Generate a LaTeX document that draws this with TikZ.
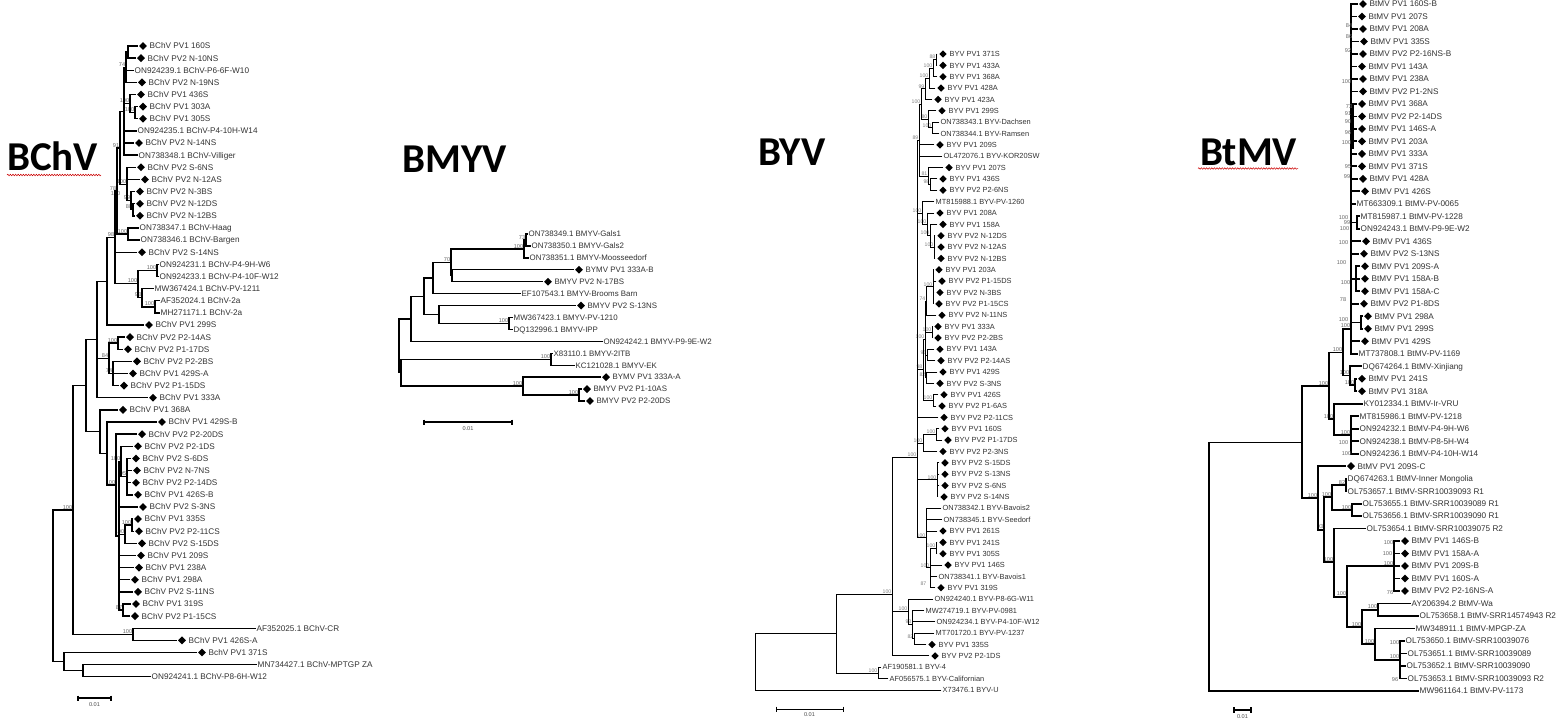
\documentclass[tikz,border=0pt]{standalone}
\usepackage{fontspec}
\setmainfont{Liberation Sans}
\newfontfamily\ttlfont{Carlito}
\usetikzlibrary{shapes.geometric,decorations.pathmorphing}
% leaf with diamond: parent x, tip x, row, label
\newcommand\zlfd[4]{\draw[tl] (#1,#3) -- (#2,#3); \node[dia] at ({#2+6},#3) {}; \node[lbl] at ({#2+12.5},#3) {#4};}
% plain leaf
\newcommand\zlfp[4]{\draw[tl] (#1,#3) -- (#2,#3); \node[lbl] at ({#2+1.5},#3) {#4};}
% internal node: parent x, x, row1, row2, stem row, bootstrap
\newcommand\znd[6]{\draw[tl] (#1,#5) -- (#2,#5); \draw[tl] (#2,#3) -- (#2,#4); \node[bs] at (#2,#5) {#6};}
\newcommand\zvb[3]{\draw[tl] (#1,#2) -- (#1,#3);}
\newcommand\zbs[3]{\node[bs,anchor=east] at (#1,#2) {#3};}
\begin{document}
\begin{tikzpicture}[x=1pt,y=-1pt,
  tl/.style={line width=1.4pt,line cap=rect},
  dia/.style={diamond,fill=black,inner sep=0pt,minimum size=8pt},
  lbl/.style={anchor=base west,inner sep=0pt,yshift=-2.9pt,text=black!80,font=\fontsize{8.2}{9}\selectfont},
  bs/.style={anchor=south east,inner sep=0.6pt,text=black!60,font=\fontsize{5.6}{6}\selectfont},
  ttl/.style={anchor=base west,inner sep=0pt,font=\ttlfont\bfseries\fontsize{41}{44}\selectfont},
  wavy/.style={red!80!black,line width=0.5pt,decorate,decoration={snake,amplitude=0.8pt,segment length=2.6pt}},
  sbar/.style={line width=1.2pt},
  sbl/.style={inner sep=0pt,text=black!70,font=\fontsize{5.6}{6}\selectfont}]
\fill[white] (0,0) rectangle (1562,723);
\useasboundingbox (0,0) rectangle (1562,723);

% ---------------- titles ----------------
\node[ttl] (tBChV) at (7,170) {BChV};
\draw[wavy] (7,175) -- (101,175);
\node[ttl] (tBMYV) at (402,172) {BMYV};
\node[ttl] (tBYV) at (758,165) {BYV};
\node[ttl] (tBtMV) at (1200,165) {BtMV};
\draw[wavy] (1198,168.5) -- (1298,168.5);

% ---------------- BChV ----------------
\begin{scope}[yshift=-33.87pt,y={(0pt,-12.13pt)}]
\znd{126}{128}{1}{2}{1.5}{}
\zlfd{128}{137}{1}{BChV PV1 160S}
\zlfd{128}{135}{2}{BChV PV2 N-10NS}
\znd{124}{126}{1.5}{4}{2.75}{74}
\zlfp{126}{133}{3}{ON924239.1 BChV-P6-6F-W10}
\zlfd{126}{136}{4}{BChV PV2 N-19NS}
\znd{130}{135}{6}{7}{6.5}{100}
\znd{124}{130}{5}{6.5}{5.75}{100}
\zlfd{130}{135}{5}{BChV PV1 436S}
\zlfd{135}{137}{6}{BChV PV1 303A}
\zlfd{135}{137}{7}{BChV PV1 305S}
\znd{120}{124}{2.75}{10}{6.4}{}
\zlfp{124}{136}{8}{ON924235.1 BChV-P4-10H-W14}
\zlfd{124}{133}{9}{BChV PV2 N-14NS}
\zlfp{124}{137}{10}{ON738348.1 BChV-Villiger}
\znd{131}{133}{14}{15}{14.5}{88}
\znd{127}{131}{13}{14.5}{13.75}{99}
\znd{120}{127}{11}{13.75}{12.4}{100}
\zlfd{127}{135}{11}{BChV PV2 S-6NS}
\zlfd{127}{139}{12}{BChV PV2 N-12AS}
\zlfd{131}{134}{13}{BChV PV2 N-3BS}
\zlfd{133}{134}{14}{BChV PV2 N-12DS}
\zlfd{133}{134}{15}{BChV PV2 N-12BS}
\znd{117}{120}{6.4}{12.4}{9.4}{91}
\zbs{121}{13.2}{100}
\znd{117}{128}{16}{17}{16.5}{100}
\zlfp{128}{138}{16}{ON738347.1 BChV-Haag}
\zlfp{128}{139}{17}{ON738346.1 BChV-Bargen}
\znd{115}{117}{9.4}{16.5}{12.95}{78}
\znd{138}{157}{19}{20}{19.5}{100}
\zlfp{157}{158}{19}{ON924231.1 BChV-P4-9H-W6}
\zlfp{157}{158}{20}{ON924233.1 BChV-P4-10F-W12}
\znd{142}{155}{22}{23}{22.5}{100}
\znd{138}{142}{21}{22.5}{21.75}{93}
\zlfp{142}{153}{21}{MW367424.1 BChV-PV-1211}
\zlfp{155}{159}{22}{AF352024.1 BChV-2a}
\zlfp{155}{159}{23}{MH271171.1 BChV-2a}
\znd{115}{138}{19.5}{21.75}{20.6}{100}
\znd{107}{115}{12.95}{20.6}{16.8}{98}
\zlfd{115}{136}{18}{BChV PV2 S-14NS}
\znd{97}{107}{16.8}{24}{20.4}{}
\zlfd{107}{143}{24}{BChV PV1 299S}
\znd{109}{118}{25}{26}{25.5}{100}
\zlfd{118}{124}{25}{BChV PV2 P2-14AS}
\zlfd{118}{122}{26}{BChV PV2 P1-17DS}
\znd{109}{113}{27}{29}{28}{74}
\zlfd{113}{131}{27}{BChV PV2 P2-2BS}
\zlfd{113}{127}{28}{BChV PV1 429S-A}
\zlfd{113}{118}{29}{BChV PV2 P1-15DS}
\znd{97}{109}{25.5}{28}{26.75}{84}
\znd{86}{97}{20.4}{30}{25.2}{}
\zlfd{97}{147}{30}{BChV PV1 333A}
\znd{121}{127}{35}{38}{36.5}{95}
\znd{119}{121}{34}{36.5}{35.25}{100}
\zlfd{121}{132}{34}{BChV PV2 P2-1DS}
\zlfd{127}{130}{35}{BChV PV2 S-6DS}
\zlfd{127}{131}{36}{BChV PV2 N-7NS}
\zlfd{127}{130}{37}{BChV PV2 P2-14DS}
\zlfd{127}{132}{38}{BChV PV1 426S-B}
\zlfd{119}{137}{39}{BChV PV2 S-3NS}
\znd{125}{132}{40}{41}{40.5}{100}
\znd{119}{125}{40.5}{42}{41.25}{100}
\zlfd{132}{132}{40}{BChV PV1 335S}
\zlfd{132}{133}{41}{BChV PV2 P2-11CS}
\zlfd{125}{136}{42}{BChV PV2 S-15DS}
\zlfd{119}{135}{43}{BChV PV1 209S}
\zlfd{119}{133}{44}{BChV PV1 238A}
\zlfd{119}{129}{45}{BChV PV1 298A}
\zlfd{119}{132}{46}{BChV PV2 S-11NS}
\znd{119}{123}{47}{48}{47.5}{87}
\zlfd{123}{130}{47}{BChV PV1 319S}
\zlfd{123}{129}{48}{BChV PV2 P1-15CS}
\znd{116}{119}{35.25}{47.5}{41.4}{}
\znd{107}{116}{33}{41.4}{37.2}{100}
\zlfd{116}{136}{33}{BChV PV2 P2-20DS}
\znd{100}{107}{32}{37.2}{34.6}{}
\zlfd{107}{156}{32}{BChV PV1 429S-B}
\znd{86}{100}{31}{34.6}{32.8}{}
\zlfd{100}{117}{31}{BChV PV1 368A}
\znd{73}{86}{25.2}{32.8}{29}{}
\znd{73}{133}{49}{50}{49.5}{100}
\zlfp{133}{255}{49}{AF352025.1 BChV-CR}
\zlfd{133}{176}{50}{BChV PV1 426S-A}
\znd{53}{73}{29}{49.5}{39.25}{100}
\znd{64}{83}{52}{53}{52.5}{}
\znd{53}{64}{51}{52.5}{51.75}{}
\zlfd{64}{196}{51}{BchV PV1 371S}
\zlfp{83}{256}{52}{MN734427.1 BChV-MPTGP ZA}
\zlfp{83}{150}{53}{ON924241.1 BChV-P8-6H-W12}
\zvb{53}{39.25}{51.75}
\end{scope}
\draw[sbar] (78,695.5) -- (78,700.5) (78,698) -- (111,698) (111,695.5) -- (111,700.5);
\node[sbl] (sb1) at (94.5,705) {0.01};

% ---------------- BMYV ----------------
\begin{scope}[yshift=-222.07pt,y={(0pt,-11.93pt)},
  lbl/.style={anchor=base west,inner sep=0pt,yshift=-2.8pt,text=black!80,font=\fontsize{7.9}{9}\selectfont}]
\znd{524}{526}{1}{2}{1.5}{73}
\zlfp{526}{527}{1}{ON738349.1 BMYV-Gals1}
\zlfp{526}{530}{2}{ON738350.1 BMYV-Gals2}
\znd{451}{524}{1.5}{3}{2.25}{100}
\zlfp{524}{528}{3}{ON738351.1 BMYV-Moosseedorf}
\znd{451}{452}{4}{5}{4.5}{}
\zlfd{452}{573}{4}{BYMV PV1 333A-B}
\zlfd{452}{542}{5}{BMYV PV2 N-17BS}
\znd{433}{451}{2.25}{4.5}{3.375}{70}
\znd{424}{433}{3.375}{6}{4.69}{}
\zlfp{433}{520}{6}{EF107543.1 BMYV-Brooms Barn}
\znd{439}{509}{8}{9}{8.5}{100}
\znd{424}{439}{7}{8.5}{7.75}{}
\zlfd{439}{575}{7}{BMYV PV2 S-13NS}
\zlfp{509}{512}{8}{MW367423.1 BMYV-PV-1210}
\zlfp{509}{512}{9}{DQ132996.1 BMYV-IPP}
\znd{411}{424}{4.69}{7.75}{6.22}{}
\znd{399}{411}{6.22}{10}{8.11}{}
\zlfp{411}{602}{10}{ON924242.1 BMYV-P9-9E-W2}
\znd{401}{551}{11}{12}{11.5}{100}
\zlfp{551}{552}{11}{X83110.1 BMYV-2ITB}
\zlfp{551}{574}{12}{KC121028.1 BMYV-EK}
\znd{523}{579}{14}{15}{14.5}{100}
\zlfd{579}{581}{14}{BMYV PV2 P1-10AS}
\zlfd{579}{584}{15}{BMYV PV2 P2-20DS}
\znd{401}{523}{13}{14.5}{13.75}{100}
\zlfd{523}{600}{13}{BYMV PV1 333A-A}
\znd{399}{401}{11.5}{13.75}{12.625}{}
\zvb{399}{8.11}{12.625}
\end{scope}
\draw[sbar] (424,419.5) -- (424,424.5) (424,422) -- (512,422) (512,419.5) -- (512,424.5);
\node[sbl] (sb2) at (468,429) {0.01};

% ---------------- BYV ----------------
\begin{scope}[yshift=-42.64pt,y={(0pt,-11.357pt)},
  tl/.style={line width=0.9pt,line cap=rect},
  dia/.style={diamond,fill=black,inner sep=0pt,minimum size=7.5pt},
  lbl/.style={anchor=base west,inner sep=0pt,yshift=-2.65pt,text=black!80,font=\fontsize{7.4}{8}\selectfont},
  bs/.style={anchor=south east,inner sep=0.5pt,text=black!50,font=\fontsize{5.2}{6}\selectfont}]
\znd{933}{936}{1}{2}{1.5}{88}
\zlfd{936}{937}{1}{BYV PV1 371S}
\zlfd{936}{937}{2}{BYV PV1 433A}
\znd{929}{933}{1.5}{3}{2.25}{100}
\zlfd{933}{937}{3}{BYV PV1 368A}
\znd{925}{929}{2.25}{4}{3.125}{100}
\zlfd{929}{935}{4}{BYV PV1 428A}
\znd{921}{925}{3.125}{5}{4.06}{99}
\zlfd{925}{932}{5}{BYV PV1 423A}
\znd{928}{932}{7}{8}{7.5}{100}
\zlfp{932}{939}{7}{ON738343.1 BYV-Dachsen}
\zlfp{932}{939}{8}{ON738344.1 BYV-Ramsen}
\znd{921}{928}{6}{7.5}{6.75}{80}
\zlfd{928}{936}{6}{BYV PV1 299S}
\znd{919}{921}{4.06}{6.75}{5.4}{100}
\znd{917}{919}{5.4}{11.75}{8.6}{89}
\zlfd{919}{934}{9}{BYV PV1 209S}
\zlfp{919}{942}{10}{OL472076.1 BYV-KOR20SW}
\znd{928}{930}{12}{13}{12.5}{98}
\znd{919}{928}{11}{12.5}{11.75}{81}
\zlfd{928}{943}{11}{BYV PV1 207S}
\zlfd{930}{937}{12}{BYV PV1 436S}
\zlfd{930}{937}{13}{BYV PV2 P2-6NS}
\znd{930}{934}{17}{19}{18}{100}
\zlfd{934}{935}{17}{BYV PV2 N-12DS}
\zlfd{934}{935}{18}{BYV PV2 N-12AS}
\zlfd{934}{935}{19}{BYV PV2 N-12BS}
\znd{927}{930}{16}{18}{17}{100}
\zlfd{930}{937}{16}{BYV PV1 158A}
\znd{922}{927}{15}{17}{16}{100}
\zlfd{927}{934}{15}{BYV PV1 208A}
\znd{917}{922}{14}{16}{15}{100}
\zlfp{922}{934}{14}{MT815988.1 BYV-PV-1260}
\znd{926}{933}{20}{23}{21.5}{100}
\zlfd{933}{933}{20}{BYV PV1 203A}
\zlfd{933}{936}{21}{BYV PV2 P1-15DS}
\zlfd{933}{934}{22}{BYV PV2 N-3BS}
\zlfd{933}{933}{23}{BYV PV2 P1-15CS}
\znd{925}{926}{21.5}{24}{22.75}{74}
\zlfd{926}{936}{24}{BYV PV2 N-11NS}
\znd{925}{932}{25}{26}{25.5}{100}
\zlfd{932}{932}{25}{BYV PV1 333A}
\zlfd{932}{932}{26}{BYV PV2 P2-2BS}
\znd{925}{927}{27}{28}{27.5}{95}
\zlfd{927}{934}{27}{BYV PV1 143A}
\zlfd{927}{935}{28}{BYV PV2 P2-14AS}
\znd{925}{926}{29}{30}{29.5}{82}
\zlfd{926}{937}{29}{BYV PV1 429S}
\zlfd{926}{934}{30}{BYV PV2 S-3NS}
\znd{923}{925}{22.75}{29.5}{26.1}{100}
\znd{923}{933}{31}{32}{31.5}{100}
\zlfd{933}{938}{31}{BYV PV1 426S}
\zlfd{933}{936}{32}{BYV PV2 P1-6AS}
\znd{917}{923}{26.1}{31.5}{28.8}{98}
\zlfd{917}{938}{33}{BYV PV2 P2-11CS}
\znd{923}{936}{34}{35}{34.5}{100}
\zlfd{936}{939}{34}{BYV PV1 160S}
\zlfd{936}{942}{35}{BYV PV2 P1-17DS}
\znd{917}{923}{34.5}{36}{35.25}{100}
\zlfd{923}{937}{36}{BYV PV2 P2-3NS}
\znd{917}{937}{37}{40}{38.5}{100}
\zlfd{937}{939}{37}{BYV PV2 S-15DS}
\zlfd{937}{939}{38}{BYV PV2 S-13NS}
\zlfd{937}{939}{39}{BYV PV2 S-6NS}
\zlfd{937}{938}{40}{BYV PV2 S-14NS}
\znd{930}{936}{44}{45}{44.5}{100}
\zlfd{936}{937}{44}{BYV PV1 241S}
\zlfd{936}{937}{45}{BYV PV1 305S}
\znd{926}{930}{44.5}{48}{46.25}{100}
\zlfd{930}{942}{46}{BYV PV1 146S}
\zlfp{930}{937}{47}{ON738341.1 BYV-Bavois1}
\zlfd{930}{935}{48}{BYV PV1 319S}
\zbs{927}{47.6}{87}
\znd{917}{926}{41}{46.25}{43.6}{100}
\zlfp{926}{941}{41}{ON738342.1 BYV-Bavois2}
\zlfp{926}{942}{42}{ON738345.1 BYV-Seedorf}
\zlfd{926}{937}{43}{BYV PV1 261S}
\znd{892}{917}{8.6}{43.6}{36.5}{100}
\znd{912}{914}{52}{53}{52.5}{82}
\zlfp{914}{934}{52}{MT701720.1 BYV-PV-1237}
\zlfd{914}{926}{53}{BYV PV1 335S}
\znd{908}{912}{50}{52.5}{51.25}{93}
\zlfp{912}{924}{50}{MW274719.1 BYV-PV-0981}
\zlfp{912}{935}{51}{ON924234.1 BYV-P4-10F-W12}
\znd{892}{908}{49}{51.25}{50.1}{100}
\zlfp{908}{933}{49}{ON924240.1 BYV-P8-6G-W11}
\znd{836}{892}{36.5}{54}{48.6}{100}
\zlfd{892}{929}{54}{BYV PV2 P2-1DS}
\znd{836}{878}{55}{56}{55.5}{100}
\zlfp{878}{881}{55}{AF190581.1 BYV-4}
\zlfp{878}{888}{56}{AF056575.1 BYV-Californian}
\znd{755}{836}{48.6}{55.5}{52}{}
\zvb{755}{52}{57}
\zlfp{755}{941}{57}{X73476.1 BYV-U}
\end{scope}
\draw[line width=0.9pt] (776,706.5) -- (776,711.5) (776,709) -- (843,709) (843,706.5) -- (843,711.5);
\node[sbl] (sb3) at (809.5,715) {0.01};

% ---------------- BtMV ----------------
\begin{scope}[yshift=8.49pt,y={(0pt,-12.49pt)},
  tl/.style={line width=1.8pt,line cap=rect}]
\zlfd{1351}{1357}{1}{BtMV PV1 160S-B}
\zlfd{1351}{1356}{2}{BtMV PV1 207S}
\zlfd{1351}{1357}{3}{BtMV PV1 208A}
\zlfd{1351}{1358}{4}{BtMV PV1 335S}
\zlfd{1351}{1357}{5}{BtMV PV2 P2-16NS-B}
\zlfd{1351}{1356}{6}{BtMV PV1 143A}
\zlfd{1351}{1357}{7}{BtMV PV1 238A}
\zlfd{1351}{1357}{8}{BtMV PV2 P1-2NS}
\zlfd{1351}{1356}{9}{BtMV PV1 368A}
\zlfd{1351}{1356}{10}{BtMV PV2 P2-14DS}
\zlfd{1351}{1356}{11}{BtMV PV1 146S-A}
\zlfd{1351}{1356}{12}{BtMV PV1 203A}
\zlfd{1351}{1356}{13}{BtMV PV1 333A}
\zlfd{1351}{1356}{14}{BtMV PV1 371S}
\zlfd{1351}{1357}{15}{BtMV PV1 428A}
\zlfd{1351}{1359}{16}{BtMV PV1 426S}
\zlfp{1351}{1355}{17}{MT663309.1 BtMV-PV-0065}
\znd{1351}{1357}{18}{19}{18.5}{}
\zlfp{1357}{1359}{18}{MT815987.1 BtMV-PV-1228}
\zlfp{1357}{1359}{19}{ON924243.1 BtMV-P9-9E-W2}
\zlfd{1351}{1360}{20}{BtMV PV1 436S}
\zlfd{1351}{1358}{21}{BtMV PV2 S-13NS}
\znd{1351}{1356}{22}{24}{23}{}
\zlfd{1356}{1359}{22}{BtMV PV1 209S-A}
\zlfd{1356}{1359}{23}{BtMV PV1 158A-B}
\zlfd{1356}{1359}{24}{BtMV PV1 158A-C}
\zlfd{1351}{1358}{25}{BtMV PV2 P1-8DS}
\znd{1351}{1361}{26}{27}{26.5}{}
\zlfd{1361}{1362}{26}{BtMV PV1 298A}
\zlfd{1361}{1362}{27}{BtMV PV1 299S}
\zlfd{1351}{1359}{28}{BtMV PV1 429S}
\zlfp{1351}{1357}{29}{MT737808.1 BtMV-PV-1169}
\znd{1343}{1351}{1}{29}{27}{100}
\draw[tl] (1353,9) -- (1353,12.5);
\zbs{1353}{2.7}{84}
\zbs{1353}{3.6}{86}
\zbs{1352}{4.7}{92}
\zbs{1352}{7.2}{100}
\zbs{1353}{9.2}{73}
\zbs{1352}{9.75}{91}
\zbs{1352}{10.4}{90}
\zbs{1352}{11.3}{96}
\zbs{1352}{12.1}{100}
\zbs{1352}{14.0}{95}
\zbs{1351}{14.8}{99}
\zbs{1349}{18.1}{100}
\zbs{1351}{18.5}{99}
\zbs{1350}{19.0}{100}
\zbs{1349}{20.1}{100}
\zbs{1347}{21.7}{100}
\zbs{1351}{23.3}{100}
\zbs{1347}{24.7}{78}
\zbs{1349}{26.3}{100}
\znd{1350}{1355}{31}{32}{31.5}{100}
\zlfp{1350}{1361}{30}{DQ674264.1 BtMV-Xinjiang}
\zlfd{1355}{1356}{31}{BtMV PV1 241S}
\zlfd{1355}{1356}{32}{BtMV PV1 318A}
\znd{1343}{1350}{30}{31.5}{30.75}{100}
\znd{1329}{1343}{27}{30.75}{28.9}{100}
\znd{1334}{1351}{34}{37}{35.5}{100}
\zlfp{1351}{1358}{34}{MT815986.1 BtMV-PV-1218}
\zlfp{1351}{1358}{35}{ON924232.1 BtMV-P4-9H-W6}
\zlfp{1351}{1358}{36}{ON924238.1 BtMV-P8-5H-W4}
\zlfp{1351}{1358}{37}{ON924236.1 BtMV-P4-10H-W14}
\zbs{1349}{36.1}{100}
\zbs{1352}{37.0}{100}
\zlfp{1334}{1362}{33}{KY012334.1 BtMV-Ir-VRU}
\znd{1329}{1334}{33}{35.5}{34.25}{100}
\znd{1302}{1329}{28.9}{34.25}{31.6}{100}
\znd{1332}{1346}{39}{40}{39.5}{82}
\zlfp{1346}{1346}{39}{DQ674263.1 BtMV-Inner Mongolia}
\zlfp{1346}{1346}{40}{OL753657.1 BtMV-SRR10039093 R1}
\znd{1332}{1352}{41}{42}{41.5}{100}
\zlfp{1352}{1361}{41}{OL753655.1 BtMV-SRR10039089 R1}
\zlfp{1352}{1361}{42}{OL753656.1 BtMV-SRR10039090 R1}
\znd{1324}{1332}{39.5}{41.5}{40.5}{100}
\znd{1347}{1394}{44}{48}{46}{100}
\zlfd{1394}{1399}{44}{BtMV PV1 146S-B}
\zlfd{1394}{1399}{45}{BtMV PV1 158A-A}
\zlfd{1394}{1399}{46}{BtMV PV1 209S-B}
\zlfd{1394}{1399}{47}{BtMV PV1 160S-A}
\zlfd{1394}{1399}{48}{BtMV PV2 P2-16NS-A}
\zbs{1394}{44.1}{100}
\zbs{1393}{45.0}{100}
\zbs{1394}{48.1}{76}
\znd{1362}{1378}{49}{50}{49.5}{100}
\zlfp{1378}{1410}{49}{AY206394.2 BtMV-Wa}
\zlfp{1378}{1418}{50}{OL753658.1 BtMV-SRR14574943 R2}
\znd{1375}{1400}{52}{55}{53.5}{100}
\zlfp{1400}{1404}{52}{OL753650.1 BtMV-SRR10039076}
\zlfp{1400}{1406}{53}{OL753651.1 BtMV-SRR10039089}
\zlfp{1400}{1405}{54}{OL753652.1 BtMV-SRR10039090}
\zlfp{1400}{1406}{55}{OL753653.1 BtMV-SRR10039093 R2}
\zbs{1400}{52.1}{100}
\zbs{1399}{55.1}{96}
\znd{1362}{1375}{51}{53.5}{52.25}{100}
\zlfp{1375}{1414}{51}{MW348911.1 BtMV-MPGP-ZA}
\znd{1347}{1362}{49.5}{52.25}{50.9}{100}
\znd{1334}{1347}{46}{50.9}{48.45}{100}
\znd{1324}{1334}{43}{48.45}{45.7}{100}
\zlfp{1334}{1365}{43}{OL753654.1 BtMV-SRR10039075 R2}
\znd{1318}{1324}{40.5}{45.7}{43.1}{93}
\znd{1302}{1318}{38}{43.1}{40.55}{100}
\zlfd{1318}{1345}{38}{BtMV PV1 209S-C}
\znd{1209}{1302}{31.6}{40.55}{36.1}{}
\zvb{1209}{36.1}{56}
\zlfp{1209}{1418}{56}{MW961164.1 BtMV-PV-1173}
\end{scope}
\draw[line width=1.6pt] (1234,707) -- (1234,713) (1234,710) -- (1251,710) (1251,707) -- (1251,713);
\node[sbl] (sb4) at (1242.5,717) {0.01};
\end{tikzpicture}
\end{document}
